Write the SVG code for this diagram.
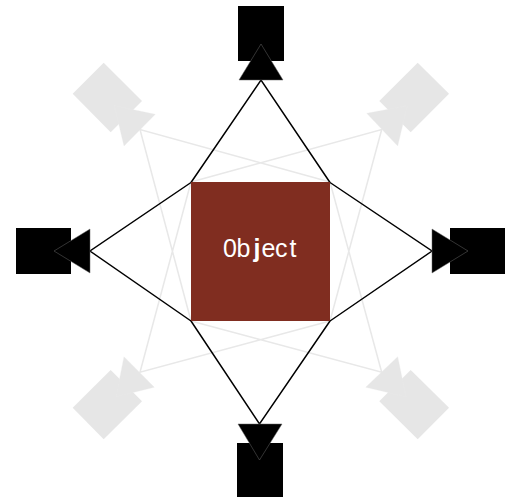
<svg xmlns="http://www.w3.org/2000/svg" width="506" height="497" viewBox="0 0 506 497">
<style>
.k{fill:#000}
.t{fill:#000;stroke:#666;stroke-width:.5}
.g{fill:#e6e6e6}
.h{fill:#e6e6e6;stroke:#ececec;stroke-width:.3}
.cb{fill:none;stroke:#000;stroke-width:1.5}
.cg{fill:none;stroke:#e8e8e8;stroke-width:1.5}
text{font-family:"Liberation Sans",Arial,sans-serif;font-size:25px;fill:#fff}
</style>
<rect width="506" height="497" fill="#fff"/>
<g id="connectors">
<path class="cg" d="M191 321L140 129.500L330 182M191 182L381.700 129.500L330 321M191 182L140 372.300L330 321M191 321L381.700 372.300L330 182"/>
<path class="cb" d="M191 182.500L261 80L330 182.500M191 182.500L90 251L191 321M330 182.500L432 251L330 321M191 321L259.500 424L330 321"/>
</g>
<g id="camera-top-left"><polygon class="g" points="103.700,62.700 142,101 110.700,132.300 72.700,93.700"/><polygon class="h" points="114.300,105.700 155.300,114.300 124,146"/></g>
<g id="camera-top-right"><polygon class="g" points="417.700,62.700 449,93.700 410.700,132.300 379.300,101"/><polygon class="h" points="407.300,105.700 366.700,113.300 397.700,146"/></g>
<g id="camera-bottom-left"><polygon class="g" points="110.700,370 142,401.300 103.700,439.300 72.700,407.700"/><polygon class="h" points="116,396.700 124,356.700 154.300,387.300"/></g>
<g id="camera-bottom-right"><polygon class="g" points="410.700,370 449,407.700 417.700,439.300 379.300,401.300"/><polygon class="h" points="406,396.700 397.700,356.700 365.700,387.300"/></g>
<g id="camera-top"><rect class="k" x="238" y="6" width="46" height="55"/><polygon class="t" points="261,44 283,80 239,80"/></g>
<g id="camera-left"><rect class="k" x="16" y="228" width="55" height="46"/><polygon class="t" points="54,251 90,229 90,273"/></g>
<g id="camera-right"><rect class="k" x="450" y="228" width="55" height="46"/><polygon class="t" points="468,251 432,229 432,273"/></g>
<g id="camera-bottom"><rect class="k" x="237" y="443" width="46" height="54"/><polygon class="t" points="259.500,460 238,424 282,424"/></g>
<g id="object"><rect x="191" y="182" width="139" height="139" fill="#802d20"/>
<text y="257"><tspan x="223">0</tspan><tspan x="236.500">b</tspan><tspan x="253.500" font-weight="bold">j</tspan><tspan x="261.500">e</tspan><tspan x="275">c</tspan><tspan x="289.500">t</tspan></text></g>
</svg>
